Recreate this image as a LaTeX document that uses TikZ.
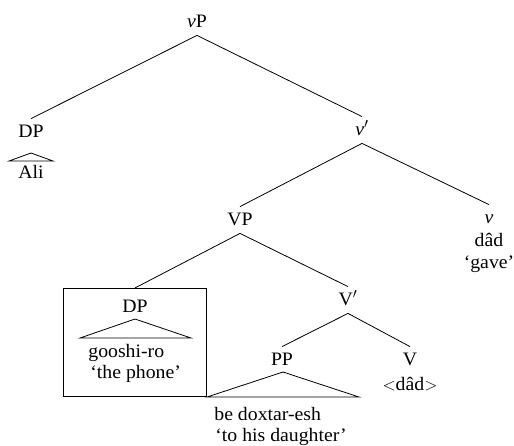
\documentclass[tikz,border=0pt]{standalone}
\usepackage{fontspec}
\setmainfont{Liberation Serif}[FakeStretch=1.04]
\begin{document}
\begin{tikzpicture}[x=1pt,y=-1pt,line width=0.8pt,
  lbl/.style={anchor=base,inner xsep=2pt,inner ysep=4pt,text height=14pt,text depth=4pt},
  leaf/.style={anchor=base,inner sep=0pt},
  leafl/.style={anchor=base west,inner sep=0pt},
  every node/.style={font=\fontsize{19}{22}\selectfont}]
\useasboundingbox (0,0) rectangle (514,445);
% labels
\node[lbl] (vP) at (197,27) {\textit{v}P};
\node[lbl] (DPa) at (31,137) {DP};
\node[leaf] (Ali) at (31,178) {Ali};
\node[lbl] (vbar) at (362,135) {\textit{v}$'$};
\node[lbl] (VP) at (240,225) {VP};
\node[lbl] (v) at (489,223) {\textit{v}};
\node[leaf] (dad) at (489,246) {dâd};
\node[leaf] (gave) at (489,268) {‘gave’};
\node[draw,anchor=north west,minimum width=143pt,minimum height=108pt,inner sep=0pt] (box) at (63,288) {};
\node[lbl] (DPb) at (135,312) {DP};
\node[leafl] (goo) at (88,357) {gooshi-ro};
\node[leafl] (phone) at (90,378) {‘the phone’};
\node[lbl] (Vbar) at (348,305) {V$'$};
\node[lbl] (PP) at (282,365) {PP};
\node[lbl] (V) at (410,365) {V};
\node[leaf] (dad2) at (410,390) {$<$dâd$>$};
\node[leafl] (bed) at (214,420) {be doxtar-esh};
\node[leafl] (daughter) at (215,441) {‘to his daughter’};
% branches
\draw (vP.south) -- (DPa.north);
\draw (vP.south) -- (vbar.north);
\draw (vbar.south) -- (VP.north);
\draw (vbar.south) -- (v.north);
\draw (VP.south) -- (box.north);
\draw (VP.south) -- (Vbar.north);
\draw (Vbar.south) -- (PP.north);
\draw (Vbar.south) -- (V.north);
% triangles
\coordinate (ta) at (31,153); \coordinate (tal) at (9,161); \coordinate (tar) at (53,161);
\draw (ta) -- (tal) -- (tar) -- cycle;
\coordinate (tb) at (135,319); \coordinate (tbl) at (80,338); \coordinate (tbr) at (191,338);
\draw (tb) -- (tbl) -- (tbr) -- cycle;
\coordinate (tc) at (283,372); \coordinate (tcl) at (207,397); \coordinate (tcr) at (359,397);
\draw (tc) -- (tcl) -- (tcr) -- cycle;
\end{tikzpicture}
\end{document}
